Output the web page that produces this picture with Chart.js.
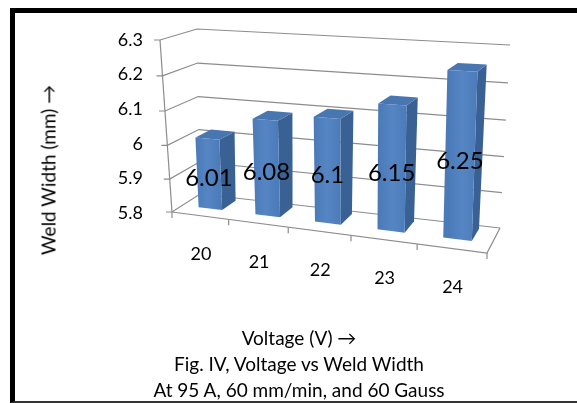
<!DOCTYPE html>
<html>
<head>
<meta charset="utf-8">
<script src="https://cdn.jsdelivr.net/npm/chart.js@4/dist/chart.umd.min.js"></script>
<style>
  html, body { margin: 0; padding: 0; background: #fff; overflow: hidden; }
  body { width: 577px; height: 403px; position: relative; font-family: Lato, "Open Sans", sans-serif; color: #000; }
  #frame { position: absolute; left: 10px; top: 8px; width: 620px; height: 388px;
           border-left: 5px solid #000; border-top: 5px solid #000; border-bottom: 2px solid #333; }
  #chart { position: absolute; left: 0; top: 0; }
  #ytitle { position: absolute; left: 48px; top: 170px; transform: translate(-50%, -50%) rotate(-90deg);
            white-space: nowrap; font-size: 19px; }
  #caption { position: absolute; left: 0; top: 325px; width: 598px; text-align: center;
             font-size: 19px; line-height: 26px; }
</style>
</head>
<body>
<div id="frame"></div>
<canvas id="chart" width="577" height="403"></canvas>
<div id="ytitle">Weld Width (mm) →</div>
<div id="caption">Voltage (V) →<br>Fig. IV, Voltage vs Weld Width<br>At 95 A, 60 mm/min, and 60 Gauss</div>
<script>
const voltages = ['20', '21', '22', '23', '24'];
const weldWidths = [6.01, 6.08, 6.1, 6.15, 6.25];
const yTickValues = [5.8, 5.9, 6, 6.1, 6.2, 6.3];

// corners of the perspective box (TL, TR, BR, BL) for the front and back planes
const FRONT = [[160, 40], [493, 58], [487, 253], [172, 212]];
const BACK = [[197, 29], [510, 45], [500, 228], [200, 194]];

function homography(q) {
    const [x0, y0] = q[0], [x1, y1] = q[1], [x2, y2] = q[2], [x3, y3] = q[3];
    const dx1 = x1 - x2, dx2 = x3 - x2, dx3 = x0 - x1 + x2 - x3;
    const dy1 = y1 - y2, dy2 = y3 - y2, dy3 = y0 - y1 + y2 - y3;
    const den = dx1 * dy2 - dx2 * dy1;
    const g = (dx3 * dy2 - dx2 * dy3) / den;
    const h = (dx1 * dy3 - dx3 * dy1) / den;
    const a = x1 - x0 + g * x1, b = x3 - x0 + h * x3;
    const d = y1 - y0 + g * y1, e = y3 - y0 + h * y3;
    return (u, v) => {
        const w = g * u + h * v + 1;
        return [(a * u + b * v + x0) / w, (d * u + e * v + y0) / w];
    };
}
const frontMap = homography(FRONT);
const backMap = homography(BACK);

function project(area, px, py, depth) {
    const u = (px - area.left) / (area.right - area.left);
    const v = (py - area.top) / (area.bottom - area.top);
    const f = frontMap(u, v), b = backMap(u, v);
    return [b[0] + (f[0] - b[0]) * depth, b[1] + (f[1] - b[1]) * depth];
}

function poly(ctx, pts, fill) {
    ctx.beginPath();
    ctx.moveTo(pts[0][0], pts[0][1]);
    for (let i = 1; i < pts.length; i++) ctx.lineTo(pts[i][0], pts[i][1]);
    ctx.closePath();
    ctx.fillStyle = fill;
    ctx.fill();
}

const box3d = {
    id: 'box3d',
    beforeDatasetsDraw(chart) {
        const ctx = chart.ctx, a = chart.chartArea, ys = chart.scales.y;
        ctx.save();
        ctx.strokeStyle = '#8c8c8c';
        ctx.lineWidth = 1.2;
        // walls and gridlines
        ys.ticks.forEach(t => {
            const py = ys.getPixelForValue(t.value);
            const p1 = project(a, a.left, py, 1), p2 = project(a, a.left, py, 0), p3 = project(a, a.right, py, 0);
            ctx.beginPath();
            ctx.moveTo(p1[0] - 6, p1[1]);
            ctx.lineTo(p1[0], p1[1]);
            ctx.lineTo(p2[0], p2[1]);
            ctx.lineTo(p3[0], p3[1]);
            ctx.stroke();
        });
        // front vertical axis
        const t0 = project(a, a.left, a.top, 1), t1 = project(a, a.left, a.bottom, 1);
        ctx.beginPath();
        ctx.moveTo(t0[0], t0[1]);
        ctx.lineTo(t1[0], t1[1]);
        ctx.stroke();
        // floor front and right edge
        const fr = project(a, a.right, a.bottom, 1), br = project(a, a.right, a.bottom, 0);
        ctx.beginPath();
        ctx.moveTo(t1[0], t1[1]);
        ctx.lineTo(fr[0], fr[1]);
        ctx.lineTo(br[0], br[1]);
        ctx.stroke();
        // category tick marks
        for (let k = 0; k <= voltages.length; k++) {
            const px = a.left + (a.right - a.left) * k / voltages.length;
            const p = project(a, px, a.bottom, 1);
            ctx.beginPath();
            ctx.moveTo(p[0], p[1]);
            ctx.lineTo(p[0], p[1] + 6);
            ctx.stroke();
        }
        ctx.restore();
    },
    afterDatasetsDraw(chart) {
        const ctx = chart.ctx, a = chart.chartArea;
        const meta = chart.getDatasetMeta(0);
        const dF = 0.62, dB = 0.12;
        ctx.save();
        meta.data.forEach((el, i) => {
            const x0 = el.x - el.width / 2, x1 = el.x + el.width / 2;
            const yT = el.y, yB = Math.min(el.base, a.bottom);
            const side = [project(a, x1, yT, dF), project(a, x1, yT, dB), project(a, x1, yB, dB), project(a, x1, yB, dF)];
            const top = [project(a, x0, yT, dF), project(a, x1, yT, dF), project(a, x1, yT, dB), project(a, x0, yT, dB)];
            const front = [project(a, x0, yT, dF), project(a, x1, yT, dF), project(a, x1, yB, dF), project(a, x0, yB, dF)];
            poly(ctx, side, '#3a6194');
            poly(ctx, top, '#4876b0');
            const gr = ctx.createLinearGradient(front[0][0], 0, front[1][0], 0);
            gr.addColorStop(0, '#4a7bb8');
            gr.addColorStop(0.5, '#5586c3');
            gr.addColorStop(1, '#4b7cb9');
            poly(ctx, front, gr);
        });
        // value labels and category labels
        ctx.fillStyle = '#000';
        ctx.textAlign = 'center';
        ctx.textBaseline = 'middle';
        meta.data.forEach((el, i) => {
            const p = project(a, el.x, (el.y + Math.min(el.base, a.bottom)) / 2, dF);
            ctx.font = '24px Lato';
            ctx.fillText(String(weldWidths[i]), p[0], p[1] + 4);
            const q = project(a, el.x, a.bottom, 1);
            ctx.font = '18px Lato';
            ctx.fillText(voltages[i], q[0] + 1, q[1] + 39);
        });
        ctx.restore();
    }
};

new Chart(document.getElementById('chart'), {
    type: 'bar',
    data: {
        labels: voltages,
        datasets: [{
            data: weldWidths,
            backgroundColor: 'rgba(0,0,0,0)',
            borderWidth: 0,
            categoryPercentage: 1,
            barPercentage: 0.42
        }]
    },
    options: {
        responsive: false,
        animation: false,
        devicePixelRatio: 1,
        layout: { padding: { left: 0, top: 40, right: 90, bottom: 190 } },
        plugins: { legend: { display: false }, tooltip: { enabled: false } },
        scales: {
            x: { display: false },
            y: {
                min: yTickValues[0],
                max: yTickValues[yTickValues.length - 1],
                afterFit: s => { s.width = 160; },
                afterBuildTicks: s => { s.ticks = yTickValues.map(v => ({ value: v })); },
                grid: { display: false, drawTicks: false },
                border: { display: false },
                ticks: {
                    padding: 17,
                    color: '#000',
                    font: { family: 'Lato', size: 18 },
                    callback: v => String(+Number(v).toFixed(1))
                }
            }
        }
    },
    plugins: [box3d]
});
</script>
</body>
</html>
